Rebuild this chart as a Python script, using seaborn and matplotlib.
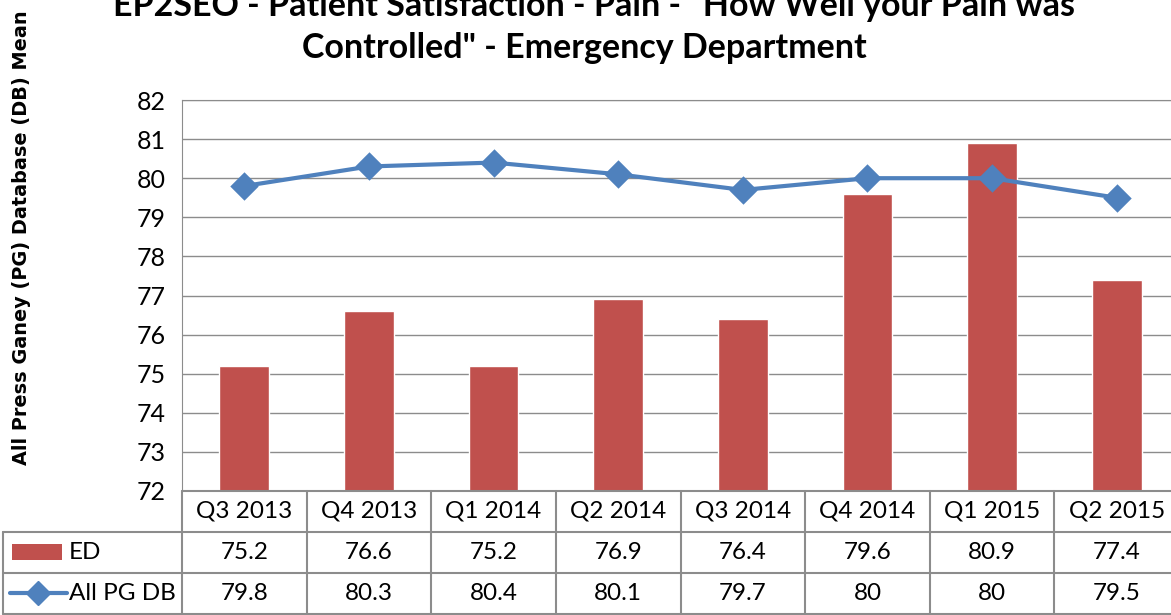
import matplotlib
matplotlib.use("Agg")
import matplotlib.pyplot as plt
import seaborn as sns
from matplotlib.patches import Rectangle

# data
quarters = ["Q3 2013", "Q4 2013", "Q1 2014", "Q2 2014",
            "Q3 2014", "Q4 2014", "Q1 2015", "Q2 2015"]
ed = [75.2, 76.6, 75.2, 76.9, 76.4, 79.6, 80.9, 77.4]
all_pg = [79.8, 80.3, 80.4, 80.1, 79.7, 80, 80, 79.5]

red = "#C0504D"
blue = "#4F81BD"
grey = "#8C8C8C"

sns.set_style("white")
plt.rcParams["font.family"] = ["Lato", "DejaVu Sans"]
plt.rcParams["text.color"] = "black"
plt.rcParams["ytick.color"] = "black"

W, H = 1171, 615
fig = plt.figure(figsize=(W / 100, H / 100), dpi=100)


def box(l, t, r, b):
    return [l / W, 1 - b / H, (r - l) / W, (b - t) / H]


ax = fig.add_axes(box(182, 100, 1179, 491))
sns.barplot(x=quarters, y=ed, color=red, saturation=1, width=0.4, ax=ax)
sns.pointplot(x=quarters, y=all_pg, color=blue, marker="D", markersize=12,
              linewidth=3, ax=ax)
ax.set_ylim(72, 82)
ax.set_xlim(-0.5, 7.5)
ax.set_yticks(range(72, 83))
ax.yaxis.grid(True, color=grey, lw=1)
ax.set_axisbelow(True)
ax.set_xticks([])
ax.set_xlabel("")
ax.set_ylabel("")
for s in ax.spines.values():
    s.set_color(grey)
ax.spines["bottom"].set_visible(False)
ax.tick_params(axis="y", length=5, color=grey, labelcolor="black",
               labelsize=18, pad=7)

# data table below the plot
tax = fig.add_axes(box(3, 491, 1179, 613.5))
xl = -0.5 - (182 - 3) / ((1179 - 182) / 8)
tax.set_xlim(xl, 7.5)
tax.set_ylim(0, 3)
tax.axis("off")
for i in range(9):
    tax.plot([i - 0.5, i - 0.5], [0, 3], color=grey, lw=1.5, clip_on=False)
tax.plot([xl, xl], [0, 2], color=grey, lw=1.5, clip_on=False)
tax.plot([-0.5, 7.5], [3, 3], color=grey, lw=1.5, clip_on=False)
for yy in (2, 1, 0):
    tax.plot([xl, 7.5], [yy, yy], color=grey, lw=1.5, clip_on=False)

for i, q in enumerate(quarters):
    tax.text(i, 2.5, q, ha="center", va="center", fontsize=17.5)
    tax.text(i, 1.5, f"{ed[i]:g}", ha="center", va="center", fontsize=17.5)
    tax.text(i, 0.5, f"{all_pg[i]:g}", ha="center", va="center", fontsize=17.5)

u = (1179 - 182) / 8
tax.add_patch(Rectangle((xl + 9 / u, 1.32), 50 / u, 0.38, color=red, lw=0))
tax.text(xl + 66 / u, 1.5, "ED", ha="left", va="center", fontsize=17.5)
tax.plot([xl + 7 / u, xl + 64 / u], [0.5, 0.5], color=blue, lw=3)
tax.plot([xl + 35 / u], [0.5], color=blue, marker="D", markersize=12)
tax.text(xl + 66 / u, 0.5, "All PG DB", ha="left", va="center", fontsize=17.5)

fig.text(598 / W, 1 - 16 / H,
         "EP2SEO - Patient Satisfaction - Pain - \"How Well your Pain was ",
         ha="center", va="baseline", fontsize=24.5, fontweight="bold")
fig.text(584 / W, 1 - 58 / H, "Controlled\" - Emergency Department",
         ha="center", va="baseline", fontsize=24.5, fontweight="bold")
fig.text(22 / W, 1 - 465 / H, "All Press Ganey (PG) Database (DB) Mean",
         rotation=90, ha="center", va="bottom", fontsize=13.9,
         fontweight="bold", family=["DejaVu Sans"])

fig.savefig("out.png", dpi=100)
